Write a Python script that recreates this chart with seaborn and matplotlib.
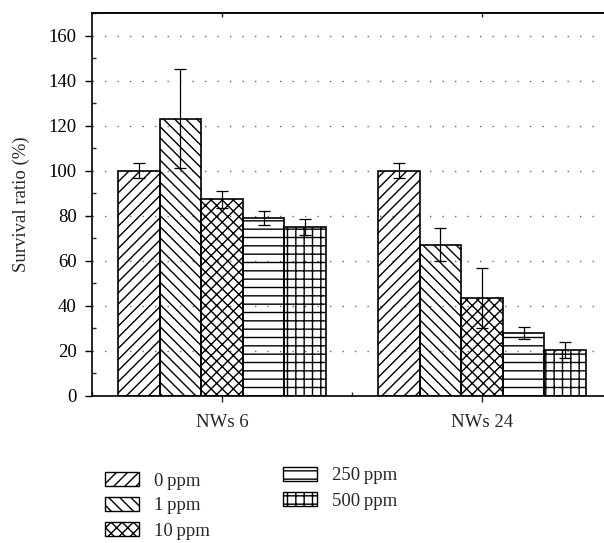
import matplotlib
matplotlib.use("Agg")
import matplotlib.pyplot as plt
from matplotlib.patches import Patch
from matplotlib.ticker import MultipleLocator, FixedLocator
import seaborn as sns
import pandas as pd
import numpy as np

groups = ["NWs 6", "NWs 24"]
concentrations = ["0\u2009ppm", "1\u2009ppm", "10\u2009ppm", "250\u2009ppm", "500\u2009ppm"]
values_nws6 = [100, 123, 87.3, 79, 75]
errors_nws6 = [3.3, 22, 3.7, 3.3, 3.7]
values_nws24 = [100, 67.2, 43.5, 28, 20.5]
errors_nws24 = [3.2, 7.2, 13.3, 2.5, 3.5]
hatches = ["///", "\\\\\\", "xxx", "--", "++"]

rows = []
for g, vals, errs in [(groups[0], values_nws6, errors_nws6), (groups[1], values_nws24, errors_nws24)]:
    for c, v, e in zip(concentrations, vals, errs):
        rows.append({"group": g, "conc": c, "value": v, "err": e})
df = pd.DataFrame(rows)

sns.set_style("white")
plt.rcParams["font.family"] = ["Liberation Serif", "DejaVu Serif"]
plt.rcParams["hatch.linewidth"] = 1.0

FS = 13.5

fig = plt.figure(figsize=(6.04, 5.43), dpi=100)
ax = fig.add_axes([92 / 604, (543 - 396) / 543, (612 - 92) / 604, (396 - 13) / 543])

sns.barplot(data=df, x="group", y="value", hue="conc", order=groups,
            hue_order=concentrations, errorbar=None, width=0.8,
            legend=False, ax=ax)

bar_containers = list(ax.containers)
for ci, cont in enumerate(bar_containers):
    sub = df[df["conc"] == concentrations[ci]].set_index("group").loc[groups]
    for bar, (_, r) in zip(cont, sub.iterrows()):
        bar.set_facecolor("none")
        bar.set_edgecolor("black")
        bar.set_linewidth(1.2)
        bar.set_hatch(hatches[ci])
        bar.set_zorder(3)
        cx = bar.get_x() + bar.get_width() / 2
        ax.errorbar(cx, r["value"], yerr=r["err"], color="black",
                    capsize=4.5, elinewidth=0.9, capthick=0.9, zorder=4)

ax.set_ylim(0, 170)
ax.set_xlim(-0.5, 1.5)
ax.yaxis.set_major_locator(FixedLocator([0, 20, 40, 60, 80, 100, 120, 140, 160]))
ax.yaxis.set_minor_locator(MultipleLocator(10))
ax.xaxis.set_minor_locator(FixedLocator([-0.5, 0.5, 1.5]))

ax.grid(axis="y", which="major", color="#666666", linestyle=(0, (1, 8)), linewidth=1.0, zorder=1)
ax.set_axisbelow(True)

for s in ["left", "bottom", "top"]:
    ax.spines[s].set_visible(True)
    ax.spines[s].set_color("black")
    ax.spines[s].set_linewidth(1.2)
ax.spines["right"].set_visible(False)

ax.tick_params(axis="y", which="major", direction="out", length=5, width=1, left=True, labelsize=FS, colors="black", pad=6)
ax.tick_params(axis="y", which="minor", direction="in", length=3, width=1, left=True)
ax.tick_params(axis="x", which="major", direction="out", length=4, width=1, bottom=True, top=False, labelsize=FS, pad=9)
ax.tick_params(axis="x", which="minor", direction="in", length=3, width=1, bottom=True)
sec = ax.secondary_xaxis("top")
sec.set_xticks([0, 1])
sec.set_xticklabels([])
sec.tick_params(direction="in", length=3, width=1)
sec.spines["top"].set_linewidth(1.2)

ax.set_xlabel("")
ax.set_ylabel("Survival ratio (%)", fontsize=FS)
ax.yaxis.set_label_coords(-0.119, 0.5)

handles = [Patch(facecolor="white", edgecolor="black", hatch=h, linewidth=1.0) for h in hatches]
leg_kw = dict(loc="upper left", frameon=False, fontsize=FS, handlelength=1.8,
              handleheight=0.7, handletextpad=0.8, labelspacing=0.42, borderpad=0)
fig.legend(handles[:3], concentrations[:3], bbox_to_anchor=(96 / 604, 1 - 463 / 543), **leg_kw)
fig.legend(handles[3:], concentrations[3:], bbox_to_anchor=(274 / 604, 1 - 458 / 543), **leg_kw)

fig.savefig("out.png", dpi=100)
